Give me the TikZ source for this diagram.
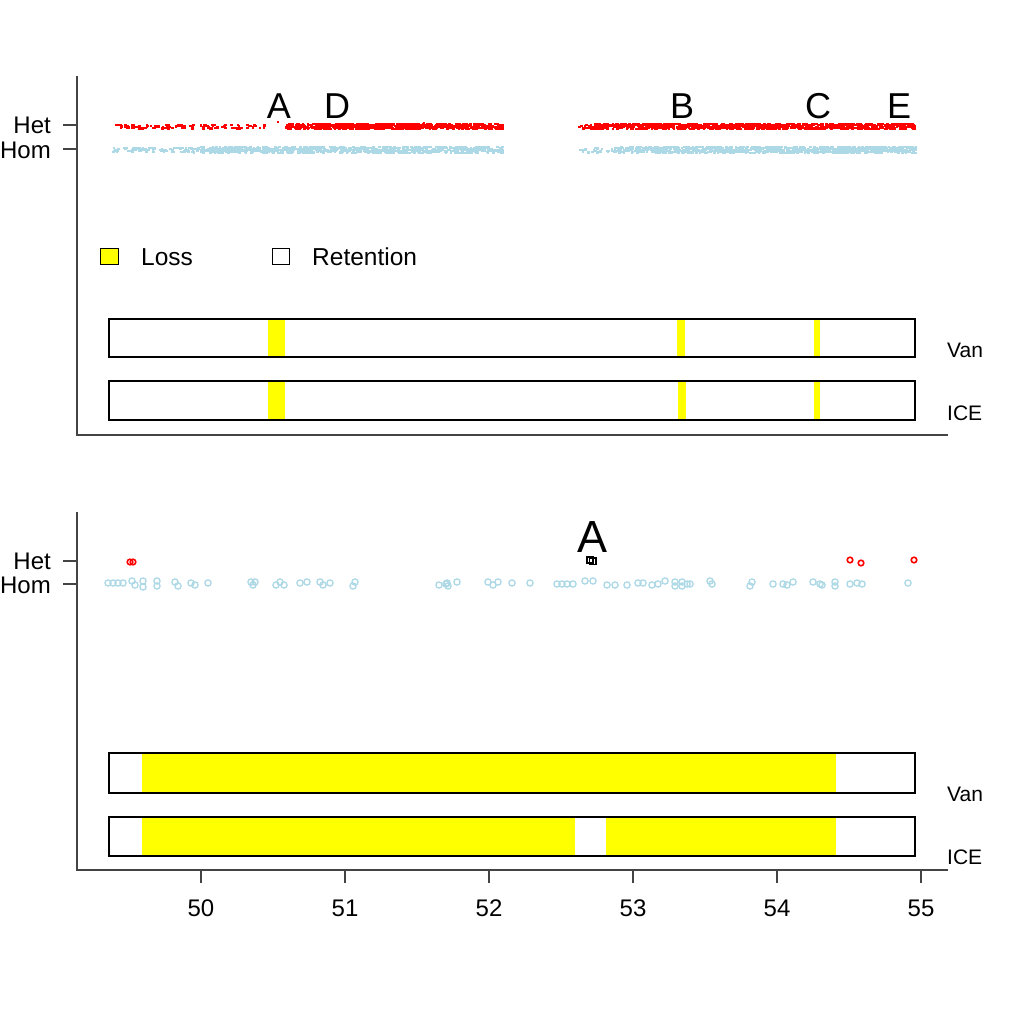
\documentclass[tikz,border=0pt]{standalone}
\usepackage{fontspec}
\setmainfont{Liberation Sans}
\definecolor{rred}{HTML}{FF0000}
\definecolor{lblue}{HTML}{ADD8E6}
\definecolor{yel}{HTML}{FFFF00}
\definecolor{axgray}{HTML}{444444}
\begin{document}
\begin{tikzpicture}[x=1pt,y=-1pt,
  axisline/.style={draw=axgray, line width=1.2pt},
  ticklbl/.style={inner sep=0pt, font=\fontsize{24}{24}\selectfont},
  rowlbl/.style={inner sep=0pt, anchor=west, font=\fontsize{21}{21}\selectfont},
  leglbl/.style={inner sep=0pt, anchor=west, font=\fontsize{24.5}{24.5}\selectfont},
  marklbl/.style={inner sep=0pt, font=\fontsize{36}{36}\selectfont},
  barbox/.style={draw=black, line width=1.2pt},
  lossfill/.style={fill=yel},
  hetdot/.style={fill=rred},
  homdot/.style={fill=lblue},
  homcirc/.style={draw=lblue, line width=1.3pt},
  hetcirc/.style={draw=rred, line width=1.6pt}
]
\useasboundingbox (0,0) rectangle (1024,1024);
\fill[white] (0,0) rectangle (1024,1024);

% ================= TOP PANEL =================
\coordinate (t1) at (77,76);
\coordinate (t2) at (77,435);
\coordinate (t3) at (948,435);
\draw[axisline] (t1) -- (t2) -- (t3);
\coordinate (thetL) at (63,125); \coordinate (thetR) at (77,125);
\coordinate (thomL) at (63,149); \coordinate (thomR) at (77,149);
\draw[axisline] (thetL) -- (thetR);
\draw[axisline] (thomL) -- (thomR);
\node[ticklbl, anchor=east] (thet) at (51,125) {Het};
\node[ticklbl, anchor=east] (thom) at (51,150) {Hom};

% scatter: Het (red)
\pgfmathsetseed{7}
\foreach \i in {1,...,110}{\pgfmathsetmacro\xx{115+rnd*150}\pgfmathsetmacro\yy{123.5+rnd*4}\fill[hetdot] (\xx,\yy) rectangle ++(2.6,2.2);}
\foreach \i in {1,...,700}{\pgfmathsetmacro\xx{285+rnd*217}\pgfmathsetmacro\yy{122.5+rnd*5.5}\fill[hetdot] (\xx,\yy) rectangle ++(2.6,2.2);}
\foreach \i in {1,...,15}{\pgfmathsetmacro\xx{577+rnd*20}\pgfmathsetmacro\yy{123.5+rnd*4}\fill[hetdot] (\xx,\yy) rectangle ++(2.6,2.2);}
\foreach \i in {1,...,950}{\pgfmathsetmacro\xx{592+rnd*323}\pgfmathsetmacro\yy{122.5+rnd*5.5}\fill[hetdot] (\xx,\yy) rectangle ++(2.6,2.2);}
\fill[hetdot] (277,121) rectangle ++(2,2);
% scatter: Hom (blue)
\foreach \i in {1,...,90}{\pgfmathsetmacro\xx{112+rnd*90}\pgfmathsetmacro\yy{146.5+rnd*5}\fill[homdot] (\xx,\yy) rectangle ++(2.6,2.2);}
\foreach \i in {1,...,850}{\pgfmathsetmacro\xx{200+rnd*302}\pgfmathsetmacro\yy{145.5+rnd*6.5}\fill[homdot] (\xx,\yy) rectangle ++(2.6,2.2);}
\foreach \i in {1,...,20}{\pgfmathsetmacro\xx{577+rnd*35}\pgfmathsetmacro\yy{146.5+rnd*5}\fill[homdot] (\xx,\yy) rectangle ++(2.6,2.2);}
\foreach \i in {1,...,950}{\pgfmathsetmacro\xx{612+rnd*303}\pgfmathsetmacro\yy{145.5+rnd*6.5}\fill[homdot] (\xx,\yy) rectangle ++(2.6,2.2);}

% marker letters
\node[marklbl] (lA) at (279,106) {A};
\node[marklbl] (lD) at (337,106) {D};
\node[marklbl] (lB) at (682,106) {B};
\node[marklbl] (lC) at (818,106) {C};
\node[marklbl] (lE) at (899,106) {E};

% legend
\draw[barbox, line width=1pt, fill=yel] (100,248) rectangle (118,264);
\node[leglbl] (lloss) at (141,257) {Loss};
\draw[barbox, line width=1pt, fill=white] (272,248) rectangle (289,264);
\node[leglbl] (lret) at (312,257) {Retention};

% bars top
\fill[lossfill] (268,319) rectangle (285,357);
\fill[lossfill] (677,319) rectangle (685,357);
\fill[lossfill] (814,319) rectangle (820,357);
\draw[barbox] (109,319) rectangle (915,357);
\fill[lossfill] (268,381) rectangle (285,420);
\fill[lossfill] (678,381) rectangle (686,420);
\fill[lossfill] (814,381) rectangle (820,420);
\draw[barbox] (109,381) rectangle (915,420);
\node[rowlbl] (tvan) at (947,350) {Van};
\node[rowlbl] (tice) at (947,413) {ICE};

% ================= BOTTOM PANEL =================
\coordinate (b1) at (77,512);
\coordinate (b2) at (77,870);
\coordinate (b3) at (948,870);
\draw[axisline] (b1) -- (b2) -- (b3);
\coordinate (bhetL) at (63,561); \coordinate (bhetR) at (77,561);
\coordinate (bhomL) at (63,584); \coordinate (bhomR) at (77,584);
\draw[axisline] (bhetL) -- (bhetR);
\draw[axisline] (bhomL) -- (bhomR);
\node[ticklbl, anchor=east] (bhet) at (51,561) {Het};
\node[ticklbl, anchor=east] (bhom) at (51,585) {Hom};

% x ticks
\foreach \v/\px in {50/201,51/345,52/489,53/633,54/777,55/921}{
  \coordinate (xt\v a) at (\px,870);
  \coordinate (xt\v b) at (\px,883);
  \draw[axisline] (xt\v a) -- (xt\v b);
  \node[ticklbl] (xl\v) at (\px,908) {\v};
}

% Hom circles
\foreach \px/\py in {108/583,113/583,118/583,123/583,132/581,135/585,143/581,143/587,157/581,157/586,
  175/582,178/586,191/583,195/585,208/583,251/582,255/582,253/585,276/585,280/582,284/585,
  300/583,307/582,320/582,323/585,330/583,355/582,353/586,
  439/585,447/583,448/586,446/584,457/582,488/582,493/585,498/582,512/583,530/583,
  557/584,562/584,567/584,573/584,585/581,593/581,607/585,615/585,627/585,638/583,643/583,652/585,
  658/584,665/581,675/582,675/586,682/582,682/586,687/584,690/584,710/581,712/584,
  750/586,752/582,773/584,783/584,787/585,793/582,813/582,820/584,822/585,
  835/582,835/586,850/584,857/583,862/584,908/583}{
  \draw[homcirc] (\px,\py) circle (3.1);
}
% Het circles
\foreach \px/\py in {130/562,133/562,850/560,861/563,914/560}{
  \draw[hetcirc] (\px,\py) circle (2.8);
}
% black squares
\draw[black, line width=1.1pt] (587,557) rectangle (593,563);
\draw[black, line width=1.1pt] (589.5,558) rectangle (596,564.5);
\node[inner sep=0pt, font=\fontsize{45}{45}\selectfont] (bA) at (592,537) {A};

% bars bottom
\fill[lossfill] (142,753) rectangle (836,793);
\draw[barbox] (109,753) rectangle (915,793);
\fill[lossfill] (142,817) rectangle (575,856);
\fill[lossfill] (606,817) rectangle (836,856);
\draw[barbox] (109,817) rectangle (915,856);
\node[rowlbl] (bvan) at (947,794) {Van};
\node[rowlbl] (bice) at (947,857) {ICE};
\end{tikzpicture}
\end{document}
